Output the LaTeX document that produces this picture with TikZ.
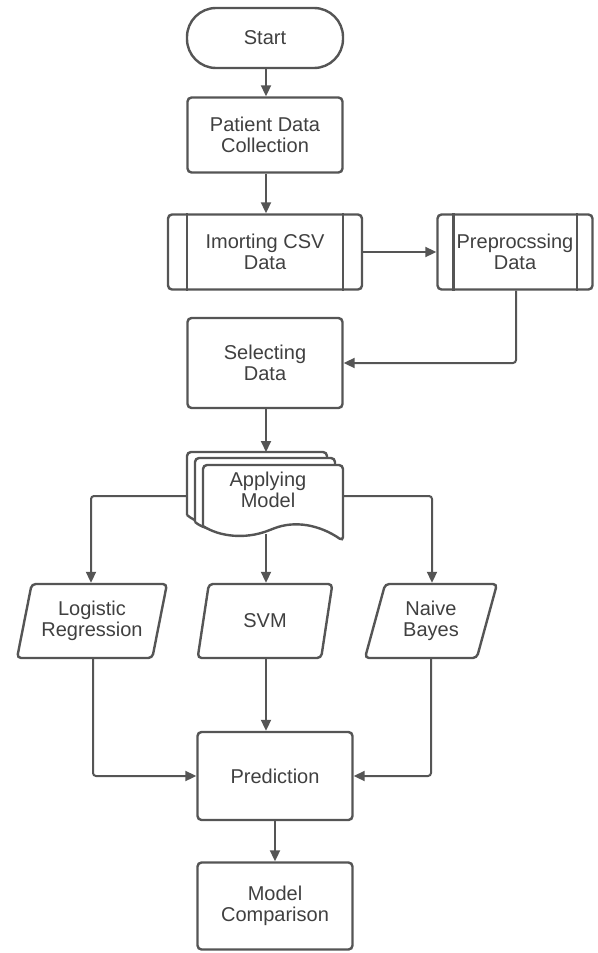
\documentclass[tikz,border=0pt]{standalone}
\usepackage{fontspec}
\setmainfont{Liberation Sans}
\usetikzlibrary{arrows.meta,shapes.geometric}
\definecolor{lc}{HTML}{555555}
\definecolor{tc}{HTML}{404040}
\tikzset{
  box/.style={draw=lc, line width=2.4pt, rounded corners=4pt, fill=white, align=center,
    text=tc, font=\fontsize{20}{21.5}\selectfont, inner sep=0pt},
  para/.style={box, trapezium, trapezium stretches=true, trapezium left angle=73, trapezium right angle=107},
  conn/.style={draw=lc, line width=2pt, rounded corners=3pt, -{Triangle[length=11pt,width=10pt]}},
  bar/.style={draw=lc, line width=2.4pt},
  doc/.style={draw=lc, line width=2.4pt, fill=white, rounded corners=4pt},
  lbl/.style={text=tc, font=\fontsize{20}{21.5}\selectfont, align=center, inner sep=0pt}
}
\begin{document}
\begin{tikzpicture}[x=1pt,y=-1pt]
\useasboundingbox (0,0) rectangle (597,953);
% nodes
\node[box, rounded corners=29pt, minimum width=156pt, minimum height=60pt] (start) at (265,38) {Start};
\node[box, minimum width=155pt, minimum height=75pt] (patient) at (265,135) {Patient Data\\Collection};
\node[box, minimum width=194pt, minimum height=75pt] (import) at (265,252) {Imorting CSV\\Data};
\draw[bar] ([xshift=20pt]import.north west) -- ([xshift=20pt]import.south west);
\draw[bar] ([xshift=-20pt]import.north east) -- ([xshift=-20pt]import.south east);
\node[box, minimum width=155pt, minimum height=75pt] (prep) at (515,252) {Preprocssing\\Data};
\draw[bar] ([xshift=17pt]prep.north west) -- ([xshift=17pt]prep.south west);
\draw[bar] ([xshift=-17pt]prep.north east) -- ([xshift=-17pt]prep.south east);
\node[box, minimum width=155pt, minimum height=90pt] (select) at (265,363) {Selecting\\Data};
% multi-document
\path[doc] (187,515) -- (187,452) -- (327,452) -- (327,500) -- (327,520) .. controls (300,505) and (260,510) .. (230,520) .. controls (210,527) and (195,522) .. (187,515);
\path[doc] (195,522) -- (195,458) -- (335,458) -- (335,527) .. controls (310,512) and (270,517) .. (240,527) .. controls (220,533) and (203,529) .. (195,522);
\path[doc] (203,526) -- (203,465) -- (343,465) -- (343,541) .. controls (320,525) and (295,520) .. (270,530) .. controls (245,539) and (220,537) .. (203,526);
\node[lbl, minimum width=140pt, minimum height=60pt] (apply) at (268,490) {Applying\\Model};
\coordinate (applytop) at (266,452);
\coordinate (applyleft) at (187,496);
\coordinate (applyright) at (343,496);
\coordinate (applybot) at (266,534);
% parallelograms
\node[para, minimum width=150pt, minimum height=74pt] (logit) at (92,621) {Logistic\\Regression};
\node[para, minimum width=135pt, minimum height=74pt] (svm) at (265,621) {SVM};
\node[para, minimum width=133pt, minimum height=74pt] (naive) at (431,621) {Naive\\Bayes};
\node[box, minimum width=155pt, minimum height=88pt] (pred) at (275,776) {Prediction};
\node[box, minimum width=155pt, minimum height=87pt] (mc) at (275,906) {Model\\Comparison};
% connectors
\draw[conn] (start.south -| 266,0) -- (patient.north -| 266,0);
\draw[conn] (patient.south -| 266,0) -- (import.north -| 266,0);
\draw[conn] (import.east) -- (prep.west);
\draw[conn] (prep.south -| 516,0) |- (select.east);
\draw[conn] (select.south -| 266,0) -- (applytop);
\draw[conn] (applyleft) -| (logit.north -| 91,0);
\draw[conn] (applyright) -| (naive.north -| 432,0);
\draw[conn] (applybot) -- (svm.north -| 266,0);
\draw[conn] (logit.south -| 93,0) |- (pred.west);
\draw[conn] (naive.south -| 431,0) |- (pred.east);
\draw[conn] (svm.south -| 266,0) -- (pred.north -| 266,0);
\draw[conn] (pred.south) -- (mc.north);
\end{tikzpicture}
\end{document}
